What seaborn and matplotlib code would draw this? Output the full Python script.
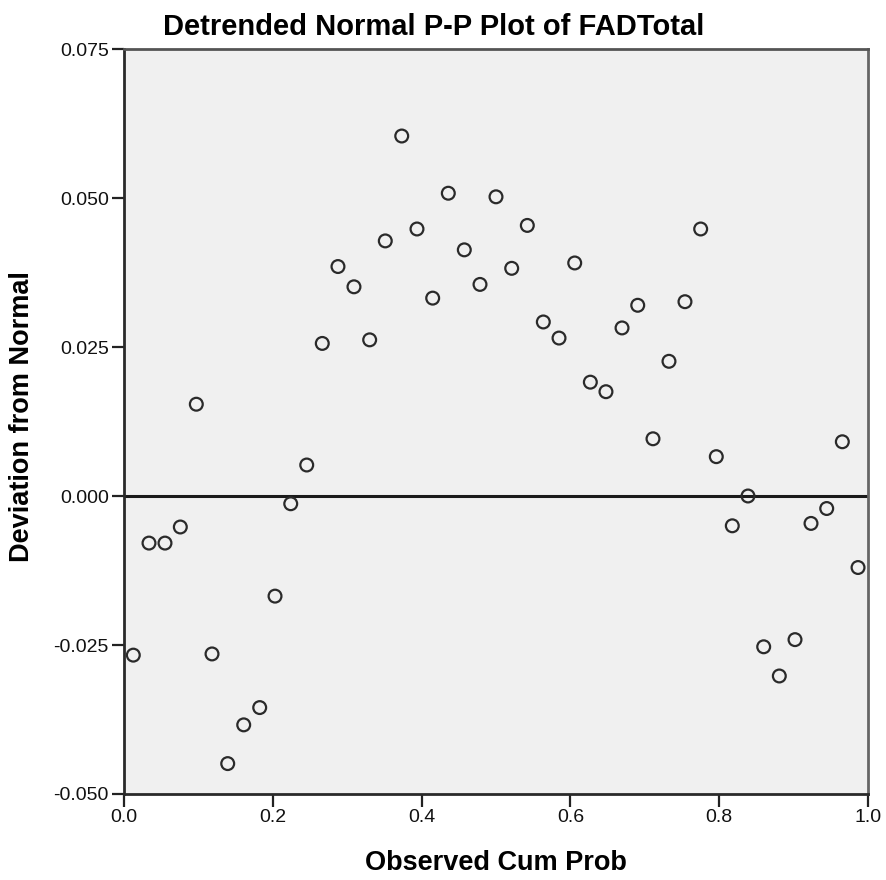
import matplotlib
matplotlib.use("Agg")
import matplotlib.pyplot as plt
import seaborn as sns
import pandas as pd

observed_cum_prob = [0.0125, 0.0336, 0.0551, 0.0757, 0.0972, 0.1183, 0.1394, 0.1609, 0.1824,
                     0.2030, 0.2241, 0.2456, 0.2665, 0.2876, 0.3091, 0.3302, 0.3512, 0.3733,
                     0.3938, 0.4149, 0.4359, 0.4574, 0.4785, 0.5000, 0.5211, 0.5421, 0.5636,
                     0.5847, 0.6058, 0.6268, 0.6478, 0.6694, 0.6905, 0.7110, 0.7325, 0.7540,
                     0.7751, 0.7961, 0.8176, 0.8387, 0.8598, 0.8808, 0.9019, 0.9234, 0.9445,
                     0.9655, 0.9866]
deviation = [-0.0267, -0.0079, -0.0079, -0.0052, 0.0154, -0.0265, -0.0449, -0.0384, -0.0355,
             -0.0168, -0.0013, 0.0052, 0.0256, 0.0385, 0.0351, 0.0262, 0.0428, 0.0604,
             0.0448, 0.0332, 0.0508, 0.0413, 0.0355, 0.0502, 0.0382, 0.0454, 0.0292,
             0.0265, 0.0391, 0.0191, 0.0175, 0.0282, 0.0320, 0.0096, 0.0226, 0.0326,
             0.0448, 0.0066, -0.0050, 0.0000, -0.0253, -0.0302, -0.0241, -0.0046, -0.0021,
             0.0091, -0.0120]
x_ticks = [0.0, 0.2, 0.4, 0.6, 0.8, 1.0]
x_tick_labels = ["0.0", "0.2", "0.4", "0.6", "0.8", "1.0"]
y_ticks = [-0.050, -0.025, 0.000, 0.025, 0.050, 0.075]
y_tick_labels = ["-0.050", "-0.025", "0.000", "0.025", "0.050", "0.075"]

df = pd.DataFrame({"Observed Cum Prob": observed_cum_prob, "Deviation from Normal": deviation})

sns.set_style("white")
plt.rcParams["font.family"] = ["Liberation Sans", "DejaVu Sans"]

fig = plt.figure(figsize=(8.86, 8.80), dpi=100)
ax = fig.add_axes([124 / 886, 1 - 794 / 880, (868 - 124) / 886, (794 - 49) / 880])
ax.set_facecolor("#f0f0f0")

ax.axhline(0.0, color="#1a1a1a", linewidth=2.2, zorder=1)
sns.scatterplot(data=df, x="Observed Cum Prob", y="Deviation from Normal", ax=ax,
                marker="o", s=85, facecolor="none", edgecolor="#2a2a2a", linewidth=1.6, zorder=3)

ax.set_xlim(0.0, 1.0)
ax.set_ylim(-0.050, 0.075)
ax.set_xticks(x_ticks)
ax.set_xticklabels(x_tick_labels)
ax.set_yticks(y_ticks)
ax.set_yticklabels(y_tick_labels)
ax.tick_params(axis="both", direction="out", length=9, width=1.6, color="#222222",
               labelsize=14, labelcolor="#111111", pad=2, left=True, bottom=True)
for side in ["left", "right", "top", "bottom"]:
    ax.spines[side].set_visible(True)
    ax.spines[side].set_linewidth(2.0)
    ax.spines[side].set_color("#2a2a2a")
ax.spines["right"].set_color("#666666")
ax.spines["top"].set_color("#555555")

ax.set_xlabel("Observed Cum Prob", fontsize=19.5, fontweight="bold", va="center", color="black")
ax.xaxis.set_label_coords(0.5, -0.0926)
ax.set_ylabel("Deviation from Normal", fontsize=19.5, fontweight="bold", va="center", color="black")
ax.yaxis.set_label_coords(-0.137, 0.506)
fig.text(434 / 886, 1 - 27 / 880, "Detrended Normal P-P Plot of FADTotal",
         ha="center", va="center", fontsize=21, fontweight="bold", color="black")

fig.savefig("out.png", dpi=100, facecolor="white")
